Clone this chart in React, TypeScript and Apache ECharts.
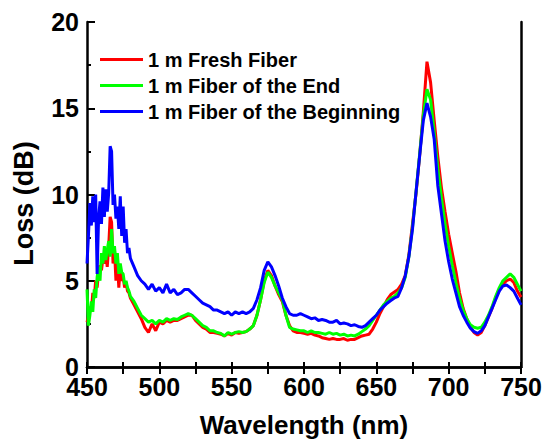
import React, { useEffect, useRef } from "react";
import * as echarts from "echarts";

const wavelength = [
  450, 451, 452, 453, 454, 455, 456, 457, 458, 459,
  460, 461, 462, 463, 464, 465, 466, 467, 468, 469,
  470, 471, 472, 473, 474, 475, 476, 477, 478, 479, 480,
  482.5, 485, 487.5, 490, 492.5, 495, 497.5, 500,
  502.5, 505, 507.5, 510, 512.5, 515, 517.5, 520,
  522.5, 525, 527.5, 530, 532.5, 535, 537.5, 540,
  542.5, 545, 547.5, 550, 552.5, 555, 557.5, 560,
  562.5, 565, 567.5, 570, 572.5, 575, 577.5, 580,
  582.5, 585, 587.5, 590, 592.5, 595, 597.5, 600,
  602.5, 605, 607.5, 610, 612.5, 615, 617.5, 620,
  622.5, 625, 627.5, 630, 632.5, 635, 637.5, 640,
  642.5, 645, 647.5, 650, 652.5, 655, 657.5, 660,
  662.5, 665, 667.5, 670, 672.5, 675, 677.5, 680,
  682.5, 685, 687.5, 690, 692.5, 695, 697.5, 700,
  702.5, 705, 707.5, 710, 712.5, 715, 717.5, 720,
  722.5, 725, 727.5, 730, 732.5, 735, 737.5, 740,
  742.5, 745, 747.5, 750,
];

const freshFiber = [
  2.6, 2.9, 3.5, 3.2, 4.3, 4.0, 5.0, 4.6, 5.5, 5.9,
  5.6, 6.3, 6.0, 6.6, 5.8, 7.0, 8.7, 8.4, 6.0, 6.8,
  5.0, 6.1, 4.6, 5.8, 5.0, 5.2, 4.6, 4.9, 4.4, 4.3, 4.0,
  3.6, 3.2, 2.8, 2.3, 2.0, 2.5, 2.1, 2.6,
  2.5, 2.7, 2.6, 2.7, 2.7, 2.8, 2.9, 3.0,
  3.0, 2.7, 2.5, 2.3, 2.2, 2.0, 2.0, 1.95,
  1.9, 1.8, 1.95, 1.85, 2.0, 1.95, 2.0, 2.05,
  2.2, 2.4, 3.0, 3.9, 5.0, 5.6, 5.3, 4.7,
  4.2, 3.8, 3.0, 2.4, 2.1, 2.0, 2.0, 1.95,
  1.9, 1.95, 1.85, 1.8, 1.7, 1.65, 1.6, 1.65,
  1.6, 1.6, 1.65, 1.55, 1.6, 1.6, 1.7, 1.8,
  1.85, 1.9, 2.2, 2.6, 3.1, 3.5, 3.9, 4.2,
  4.35, 4.5, 4.8, 5.3, 6.5, 8.3, 10.1, 12.3,
  14.8, 17.7, 16.5, 14.3, 12.2, 10.4, 9.0, 7.7,
  6.6, 5.55, 4.3, 3.4, 2.8, 2.3, 2.0, 1.85,
  2.0, 2.4, 2.9, 3.4, 4.0, 4.5, 4.8, 5.0,
  5.1, 4.9, 4.4, 4.05,
];

const fiberEnd = [
  4.5, 2.4, 3.0, 3.8, 3.2, 4.5, 4.0, 5.2, 5.8, 5.0,
  6.6, 6.0, 7.0, 6.2, 6.8, 7.3, 6.4, 8.0, 6.6, 7.0,
  6.0, 6.6, 5.4, 6.0, 5.5, 5.4, 4.8, 5.0, 4.6, 4.4, 4.1,
  3.8, 3.4, 3.0, 2.8, 2.6, 2.7, 2.5, 2.7,
  2.6, 2.8, 2.7, 2.8, 2.75, 2.9, 3.0, 3.1,
  3.0, 2.8, 2.6, 2.4, 2.3, 2.1, 2.1, 2.0,
  1.95, 1.8, 2.0, 1.9, 2.0, 2.05, 2.0, 2.05,
  2.2, 2.4, 3.0, 3.9, 4.9, 5.5, 5.2, 4.7,
  4.3, 3.9, 3.0, 2.3, 2.2, 2.15, 2.1, 2.1,
  2.0, 2.1, 2.0, 2.0, 1.95, 1.9, 2.0, 1.9,
  1.95, 1.85, 1.9, 1.8, 1.85, 1.8, 1.9, 2.05,
  2.2, 2.4, 2.7, 3.0, 3.3, 3.6, 3.8, 4.0,
  4.1, 4.3, 4.6, 5.2, 6.4, 8.1, 10.2, 12.4,
  14.6, 16.1, 15.5, 13.6, 11.5, 9.8, 8.3, 7.0,
  5.9, 4.9, 4.0, 3.3, 2.8, 2.45, 2.3, 2.25,
  2.3, 2.6, 3.0, 3.5, 4.1, 4.6, 5.0, 5.2,
  5.4, 5.2, 4.8, 4.4,
];

const fiberBeginning = [
  6.0, 7.6, 9.5, 8.2, 9.9, 8.4, 10.0, 5.4, 8.6, 9.6,
  8.3, 10.4, 8.7, 10.3, 9.0, 10.1, 12.8, 12.5, 9.4, 10.0,
  8.6, 9.3, 8.0, 9.9, 7.6, 9.3, 7.2, 8.0, 6.6, 6.9, 6.3,
  5.8, 5.3, 5.0, 4.8, 4.5, 4.8, 4.4, 4.6,
  4.3, 4.8, 4.3, 4.5, 4.2, 4.3, 4.5, 4.5,
  4.3, 4.1, 3.9, 3.7, 3.6, 3.5, 3.3, 3.3,
  3.2, 3.1, 3.2, 3.0, 3.2, 3.1, 3.2, 3.1,
  3.2, 3.4, 3.9, 4.6, 5.6, 6.1, 5.8, 5.3,
  4.7, 4.0, 3.5, 3.1, 3.0, 3.0, 3.1, 3.0,
  2.9, 2.8, 2.85, 2.7, 2.75, 2.7, 2.6, 2.6,
  2.7, 2.5, 2.55, 2.5, 2.4, 2.45, 2.35, 2.3,
  2.4, 2.6, 2.8, 3.0, 3.3, 3.5, 3.7, 3.85,
  4.0, 4.1, 4.6, 5.3, 6.4, 8.0, 10.2, 12.3,
  14.3, 15.3, 14.5, 13.2, 10.5, 8.9, 7.3, 6.1,
  5.1, 4.3, 3.5, 3.0, 2.6, 2.25, 2.05, 1.95,
  2.1, 2.4, 2.9, 3.4, 3.9, 4.4, 4.7, 4.75,
  4.6, 4.4, 4.0, 3.6,
];

const seriesNames = ["1 m Fresh Fiber", "1 m Fiber of the End", "1 m Fiber of the Beginning"];
const seriesColors = ["#ff0000", "#00ff00", "#0000ff"];
const xTitle = "Wavelength (nm)";
const yTitle = "Loss (dB)";

const FONT = "'Liberation Sans', Arial, sans-serif";

export default function App() {
  const ref = useRef<HTMLDivElement>(null);
  useEffect(() => {
    if (!ref.current) return;
    const chart = echarts.init(ref.current, null, { renderer: "svg" });
    const allData = [freshFiber, fiberEnd, fiberBeginning];
    const axisLine = { show: true, lineStyle: { color: "#000", width: 2.5 } };
    chart.setOption({
      animation: false,
      backgroundColor: "#fff",
      grid: { left: 87, right: 24, top: 22, bottom: 70 },
      legend: {
        data: seriesNames,
        orient: "vertical",
        left: 95,
        top: 44,
        icon: "rect",
        itemWidth: 43,
        itemHeight: 3,
        itemGap: 5,
        textStyle: { fontFamily: FONT, fontWeight: "bold", fontSize: 20, color: "#000", lineHeight: 21 },
      },
      xAxis: [
        {
          type: "value",
          min: 450,
          max: 750,
          interval: 50,
          position: "bottom",
          axisLine,
          axisTick: { show: true, inside: true, length: 5, lineStyle: { color: "#000", width: 2 } },
          minorTick: { show: true, splitNumber: 2, length: 5, lineStyle: { color: "#000", width: 2 } },
          splitLine: { show: false },
          axisLabel: { fontFamily: FONT, fontWeight: "bold", fontSize: 25, color: "#000", margin: 10, lineHeight: 20 },
          name: xTitle,
          nameLocation: "middle",
          nameGap: 45,
          nameTextStyle: { fontFamily: FONT, fontWeight: "bold", fontSize: 26, color: "#000" },
        },
        {
          type: "value",
          min: 450,
          max: 750,
          interval: 50,
          position: "top",
          axisLine,
          axisTick: { show: true, inside: true, length: 7, lineStyle: { color: "#000", width: 2 } },
          minorTick: { show: true, splitNumber: 2, length: 7, lineStyle: { color: "#000", width: 2 } },
          splitLine: { show: false },
          axisLabel: { show: false },
        },
      ],
      yAxis: [
        {
          type: "value",
          min: 0,
          max: 20,
          interval: 5,
          position: "left",
          axisLine,
          axisTick: { show: true, inside: true, length: 8, lineStyle: { color: "#000", width: 2 } },
          minorTick: { show: true, splitNumber: 2, length: 4, lineStyle: { color: "#000", width: 2 } },
          splitLine: { show: false },
          axisLabel: { fontFamily: FONT, fontWeight: "bold", fontSize: 25, color: "#000", margin: 8, lineHeight: 20 },
          name: yTitle,
          nameLocation: "middle",
          nameRotate: 90,
          nameGap: 50,
          nameTextStyle: { fontFamily: FONT, fontWeight: "bold", fontSize: 27, color: "#000", padding: [0, 18, 0, 0] },
        },
        {
          type: "value",
          min: 0,
          max: 20,
          interval: 5,
          position: "right",
          axisLine,
          axisTick: { show: false },
          splitLine: { show: false },
          axisLabel: { show: false },
        },
      ],
      series: seriesNames.map((name, i) => ({
        name,
        type: "line",
        xAxisIndex: 0,
        yAxisIndex: 0,
        showSymbol: false,
        symbol: "none",
        color: seriesColors[i],
        lineStyle: { color: seriesColors[i], width: 3 },
        data: wavelength.map((w, j) => [w, allData[i][j]]),
        z: 2 + i,
      })),
    });
    return () => chart.dispose();
  }, []);
  return <div ref={ref} style={{ position: "fixed", left: 0, top: 0, width: 545, height: 443 }} />;
}
